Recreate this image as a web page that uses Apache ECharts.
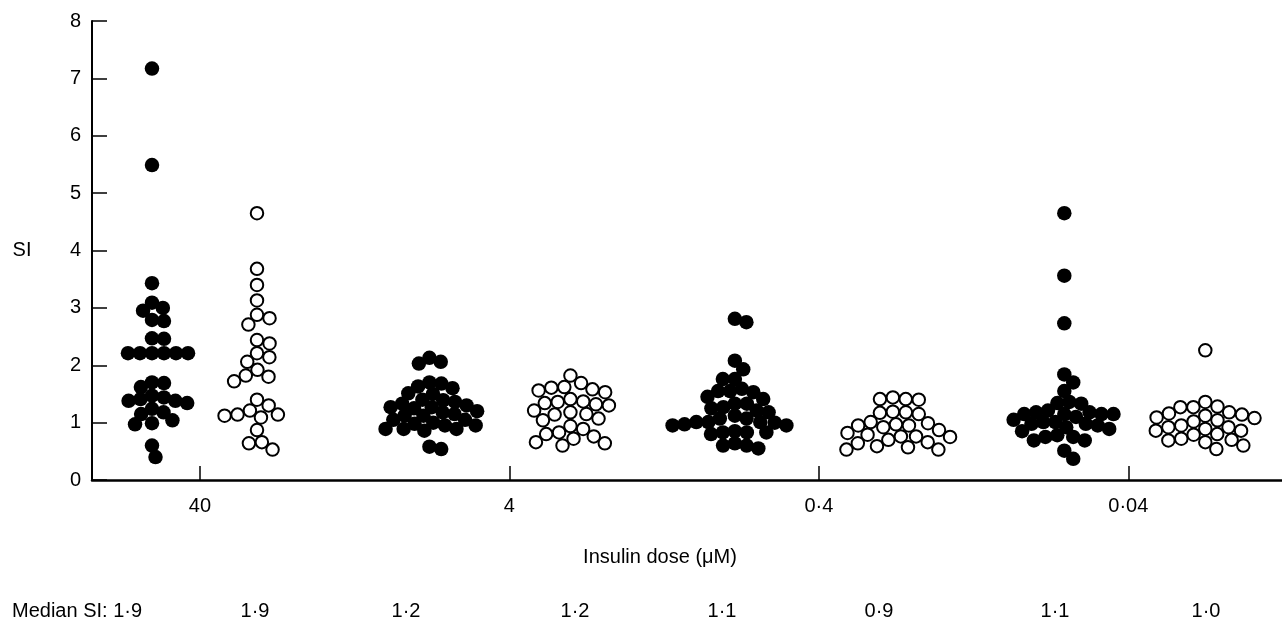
<!DOCTYPE html>
<html><head><meta charset="utf-8">
<style>html,body{margin:0;padding:0;background:#fff}#c{width:1282px;height:632px}</style>
<script src="https://cdn.jsdelivr.net/npm/echarts@6/dist/echarts.min.js"></script>
</head><body><div id="c"></div>
<script>
// ---- data ----
const doseLabels = ['40', '4', '0·4', '0·04'];
const medianLabels = ['1·9', '1·9', '1·2', '1·2', '1·1', '0·9', '1·1', '1·0'];
const yTicks = [0, 1, 2, 3, 4, 5, 6, 7, 8];

const filled40 = [7.17,5.49,3.43,3.09,2.95,3.00,2.79,2.77,2.46,2.47,2.21,2.21,2.21,2.21,2.21,2.21,1.70,1.69,1.62,1.41,1.34,1.44,1.47,1.38,1.38,1.18,1.24,1.15,1.04,0.99,0.97,0.60,0.40];
const open40 = [4.65,3.68,3.40,3.13,2.88,2.82,2.71,2.44,2.38,2.21,2.14,2.06,1.92,1.80,1.82,1.72,1.40,1.14,1.14,1.09,1.21,1.30,1.12,0.87,0.66,0.64,0.53];
const filled4 = [2.13,2.06,2.03,1.70,1.68,1.63,1.60,1.51,1.50,1.40,1.39,1.36,1.33,1.30,1.27,1.27,1.25,1.20,1.18,1.15,1.12,1.12,1.05,1.05,1.00,0.98,0.95,0.95,0.89,0.89,0.89,0.86,0.58,0.54];
const open4 = [1.82,1.69,1.62,1.61,1.58,1.56,1.53,1.41,1.37,1.36,1.34,1.32,1.30,1.21,1.18,1.15,1.14,1.07,1.04,0.94,0.89,0.83,0.80,0.76,0.72,0.66,0.64,0.60];
const filled04 = [2.81,2.75,2.08,1.93,1.76,1.76,1.59,1.55,1.55,1.53,1.45,1.41,1.33,1.33,1.27,1.25,1.21,1.18,1.12,1.07,1.07,1.01,1.01,1.01,1.00,0.97,0.95,0.95,0.85,0.83,0.83,0.80,0.83,0.60,0.60,0.55,0.64];
const open04 = [1.44,1.41,1.41,1.40,1.19,1.18,1.17,1.15,1.01,0.99,0.97,0.95,0.95,0.92,0.87,0.82,0.79,0.76,0.76,0.75,0.70,0.66,0.64,0.59,0.57,0.53,0.53];
const filled004 = [4.65,3.56,2.73,1.84,1.70,1.55,1.36,1.34,1.33,1.21,1.18,1.18,1.15,1.15,1.15,1.15,1.10,1.05,1.01,1.01,0.98,0.98,0.95,0.92,0.89,0.85,0.78,0.75,0.75,0.69,0.69,0.51,0.37];
const open004 = [2.26,1.36,1.28,1.27,1.27,1.18,1.16,1.14,1.12,1.09,1.08,1.04,1.02,0.95,0.92,0.92,0.89,0.86,0.86,0.80,0.79,0.72,0.70,0.69,0.66,0.60,0.54];

const filledGroups = [filled40, filled4, filled04, filled004];
const openGroups = [open40, open4, open04, open004];

// ---- layout (not data) ----
const GRID = {left: 92, right: 0, top: 21, bottom: 152};
const W = 1282, H = 632;
const X_MIN = -0.349, X_MAX = 3.4967;
const pxPerX = (W - GRID.left - GRID.right) / (X_MAX - X_MIN);
const pxPerY = (H - GRID.top - GRID.bottom) / 8;
const filledShift = [-48, -80, -84, -64];
const openShift = [57, 61, 74, 77];

function swarm(values, D) {
  const pts = values.map(v => ({v: v, y: v * pxPerY, x: 0}));
  const order = pts.slice().sort((a, b) => b.v - a.v);
  const placed = [];
  for (const p of order) {
    const cands = [0];
    for (const q of placed) {
      const dy = Math.abs(p.y - q.y);
      if (dy < D) {
        const dx = Math.sqrt(D * D - dy * dy);
        cands.push(q.x + dx + 0.01, q.x - dx - 0.01);
      }
    }
    cands.sort((a, b) => (Math.abs(a) - Math.abs(b)) || (b - a));
    for (const c of cands) {
      if (placed.every(q => (q.x - c) ** 2 + (q.y - p.y) ** 2 >= D * D - 0.1)) { p.x = c; break; }
    }
    placed.push(p);
  }
  return pts;
}

function build(groups, shifts, D) {
  const out = [];
  groups.forEach((g, i) => {
    swarm(g, D).forEach(p => out.push([i + (shifts[i] + p.x) / pxPerX, p.v]));
  });
  return out;
}

const FONT = 'Liberation Sans, Arial, sans-serif';
const FS = 20;
const chart = echarts.init(document.getElementById('c'));
const medianX = [12, 255, 406, 575, 722, 879, 1055, 1206];
const graphics = medianLabels.map((t, i) => ({
  type: 'text', x: medianX[i], y: 611,
  style: {text: i === 0 ? 'Median SI: ' + t : t, font: FS + 'px ' + FONT, fill: '#000',
    textAlign: i === 0 ? 'left' : 'center', textVerticalAlign: 'middle'}
}));
graphics.push({type: 'text', x: 22, y: 250, style: {text: 'SI', font: FS + 'px ' + FONT, fill: '#000', textAlign: 'center', textVerticalAlign: 'middle'}});
graphics.push({type: 'text', x: 660, y: 557, style: {text: 'Insulin dose (μM)', font: FS + 'px ' + FONT, fill: '#000', textAlign: 'center', textVerticalAlign: 'middle'}});

chart.setOption({
  animation: false,
  backgroundColor: '#fff',
  grid: GRID,
  xAxis: {
    type: 'value', min: X_MIN, max: X_MAX,
    axisLine: {onZero: false, lineStyle: {color: '#000', width: 2.5}},
    axisTick: {inside: true, length: 14, customValues: [0, 1, 2, 3], lineStyle: {color: '#000', width: 1.5}},
    axisLabel: {customValues: [0, 1, 2, 3], margin: 16, color: '#000', fontSize: FS, fontFamily: FONT,
      formatter: v => doseLabels[Math.round(v)]},
    splitLine: {show: false}
  },
  yAxis: {
    type: 'value', min: 0, max: 8, interval: 1,
    axisLine: {show: true, onZero: false, lineStyle: {color: '#000', width: 2}},
    axisTick: {show: true, inside: true, length: 15, lineStyle: {color: '#000', width: 1.5}},
    axisLabel: {margin: 11, color: '#000', fontSize: FS, fontFamily: FONT,
      formatter: v => yTicks.indexOf(v) >= 0 ? String(v) : ''},
    splitLine: {show: false}
  },
  graphic: graphics,
  series: [
    {name: 'Filled', type: 'scatter', symbol: 'circle', symbolSize: 14.5,
      itemStyle: {color: '#000', opacity: 1}, data: build(filledGroups, filledShift, 12)},
    {name: 'Open', type: 'scatter', symbol: 'circle', symbolSize: 12.5,
      itemStyle: {color: 'rgba(255,255,255,0)', borderColor: '#000', borderWidth: 2, opacity: 1},
      data: build(openGroups, openShift, 13)}
  ]
});
</script></body></html>
